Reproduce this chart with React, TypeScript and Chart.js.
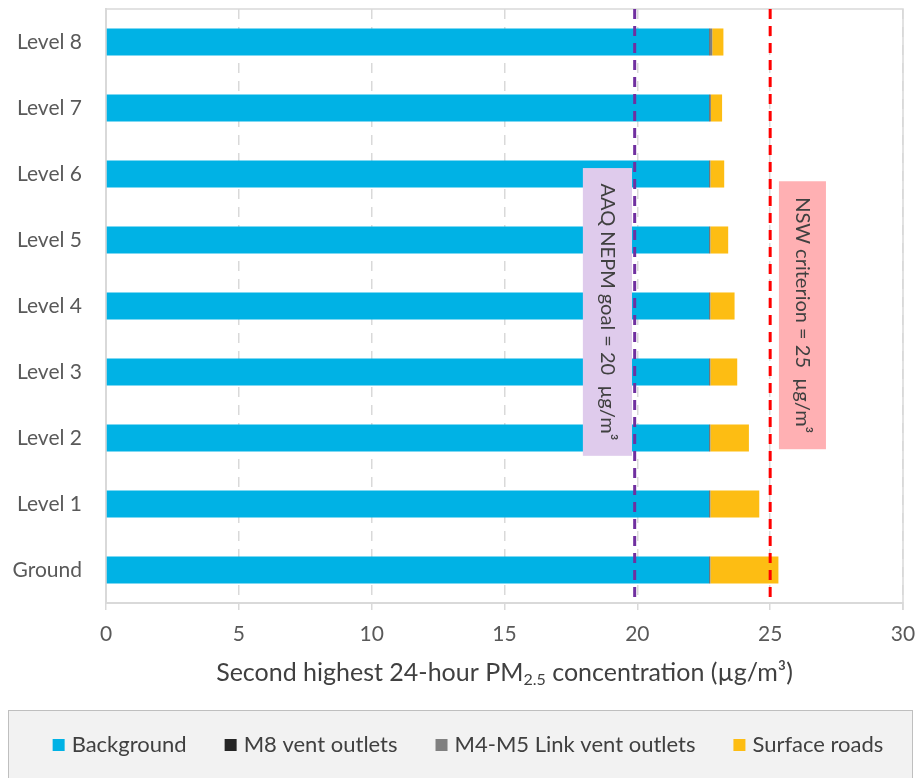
import { useEffect, useRef } from 'react';
import Chart from 'chart.js/auto';

const levels = ['Level 8', 'Level 7', 'Level 6', 'Level 5', 'Level 4', 'Level 3', 'Level 2', 'Level 1', 'Ground'];
const background = [22.7, 22.7, 22.7, 22.7, 22.7, 22.7, 22.7, 22.7, 22.7];
const m8Vents = [0.02, 0.02, 0.02, 0.02, 0.02, 0.02, 0.02, 0.02, 0.02];
const m4m5Vents = [0.1, 0.05, 0.03, 0.03, 0.03, 0.03, 0.03, 0.03, 0.03];
const surfaceRoads = [0.42, 0.42, 0.52, 0.67, 0.91, 1.01, 1.45, 1.84, 2.56];
const xTicks = [0, 5, 10, 15, 20, 25, 30];

const nepmGoal = 19.9;
const nswCriterion = 25;

const FONT = 'Lato, "Open Sans", sans-serif';

const refPlugin = {
  id: 'refLines',
  beforeDatasetsDraw(chart: any) {
    const { ctx, chartArea: a } = chart;
    ctx.save();
    ctx.strokeStyle = '#d9d9d9';
    ctx.lineWidth = 1.5;
    ctx.beginPath();
    ctx.moveTo(a.left, a.top);
    ctx.lineTo(a.right, a.top);
    ctx.lineTo(a.right, a.bottom + 7);
    ctx.stroke();
    ctx.restore();
  },
  afterDatasetsDraw(chart: any) {
    const { ctx, chartArea: a, scales } = chart;
    const x = scales.x;
    const y = scales.y;

    const box = (x0: number, x1: number, i0: number, i1: number, fill: string, text: string) => {
      const l = x.getPixelForValue(x0);
      const r = x.getPixelForValue(x1);
      const t = y.getPixelForValue(i0);
      const b = y.getPixelForValue(i1);
      ctx.save();
      ctx.fillStyle = fill;
      ctx.fillRect(l, t, r - l, b - t);
      ctx.translate((l + r) / 2, (t + b) / 2);
      ctx.rotate(Math.PI / 2);
      ctx.fillStyle = '#404040';
      ctx.font = `20px ${FONT}`;
      ctx.textAlign = 'center';
      ctx.textBaseline = 'middle';
      ctx.fillText(text, 0, 0);
      ctx.restore();
    };

    const vline = (v: number, color: string) => {
      const px = x.getPixelForValue(v);
      ctx.save();
      ctx.strokeStyle = color;
      ctx.lineWidth = 3;
      ctx.setLineDash([10, 7]);
      ctx.beginPath();
      ctx.moveTo(px, a.top);
      ctx.lineTo(px, a.bottom);
      ctx.stroke();
      ctx.restore();
    };

    box(17.95, 19.8, 1.91, 6.27, '#dfcbec', 'AAQ NEPM goal = 20  µg/m³');
    vline(nepmGoal, '#7030a0');
    box(25.33, 27.1, 2.11, 6.17, '#ffb0b3', 'NSW criterion = 25  µg/m³');
    vline(nswCriterion, '#ff0000');
  },
  afterDraw(chart: any) {
    const { ctx, chartArea: a } = chart;
    // x-axis title with subscript
    ctx.save();
    ctx.fillStyle = '#404040';
    ctx.textBaseline = 'alphabetic';
    const big = `25px ${FONT}`;
    const small = `16px ${FONT}`;
    const p1 = 'Second highest 24-hour PM';
    const p2 = '2.5';
    const p3 = ' concentration (µg/m³)';
    ctx.font = big;
    const w1 = ctx.measureText(p1).width;
    const w3 = ctx.measureText(p3).width;
    ctx.font = small;
    const w2 = ctx.measureText(p2).width;
    let cx = (a.left + a.right) / 2 - (w1 + w2 + w3) / 2;
    const base = 681;
    ctx.font = big;
    ctx.fillText(p1, cx, base);
    cx += w1;
    ctx.font = small;
    ctx.fillText(p2, cx, base + 4);
    cx += w2;
    ctx.font = big;
    ctx.fillText(p3, cx, base);

    // legend box
    ctx.fillStyle = '#f2f2f2';
    ctx.strokeStyle = '#bfbfbf';
    ctx.lineWidth = 1;
    ctx.fillRect(8.5, 710.5, 904, 80);
    ctx.strokeRect(8.5, 710.5, 904, 80);

    ctx.font = `22px ${FONT}`;
    ctx.textBaseline = 'middle';
    const items = chart.data.datasets.map((d: any) => ({
      label: d.label,
      color: d.backgroundColor,
      w: 12 + 7 + ctx.measureText(d.label).width,
    }));
    const gap = 38;
    const total = items.reduce((s: number, it: any) => s + it.w, 0) + gap * (items.length - 1);
    let lx = 468 - total / 2;
    items.forEach((it: any) => {
      ctx.fillStyle = it.color;
      ctx.fillRect(lx, 739, 12, 12);
      ctx.fillStyle = '#404040';
      ctx.fillText(it.label, lx + 19, 745);
      lx += it.w + gap;
    });
    ctx.restore();
  },
};

export default function App() {
  const chartRef = useRef<HTMLCanvasElement>(null);
  const chartInstance = useRef<Chart | null>(null);

  useEffect(() => {
    document.body.style.margin = '0';
    if (!chartRef.current) return;
    if (chartInstance.current) chartInstance.current.destroy();
    const ctx = chartRef.current.getContext('2d');
    if (!ctx) return;

    chartInstance.current = new Chart(ctx, {
      type: 'bar',
      data: {
        labels: levels,
        datasets: [
          { label: 'Background', data: background, backgroundColor: '#00b2e5' },
          { label: 'M8 vent outlets', data: m8Vents, backgroundColor: '#262626' },
          { label: 'M4-M5 Link vent outlets', data: m4m5Vents, backgroundColor: '#808080' },
          { label: 'Surface roads', data: surfaceRoads, backgroundColor: '#fdbd13' },
        ],
      },
      options: {
        indexAxis: 'y',
        animation: false,
        responsive: false,
        layout: { padding: { top: 9, right: 17, left: 0, bottom: 0 } },
        datasets: { bar: { categoryPercentage: 1, barPercentage: 0.41 } },
        plugins: { legend: { display: false }, tooltip: { enabled: false } },
        scales: {
          x: {
            stacked: true,
            min: 0,
            max: 30,
            afterBuildTicks: (s: any) => {
              s.ticks = xTicks.map((v) => ({ value: v }));
            },
            afterFit: (s: any) => {
              s.height = 175;
              s.paddingLeft = 0;
              s.paddingRight = 0;
            },
            grid: { color: '#d9d9d9', lineWidth: 1.5, tickLength: 7, tickBorderDash: [] },
            border: { display: true, color: '#d9d9d9', width: 2, dash: [10, 8] },
            ticks: { color: '#595959', font: { family: FONT, size: 21 }, padding: 12 },
          },
          y: {
            stacked: true,
            afterFit: (s: any) => {
              s.width = 106;
              s.paddingTop = 0;
              s.paddingBottom = 0;
            },
            grid: { display: false },
            border: { display: true, color: '#d9d9d9', width: 2 },
            ticks: { color: '#595959', font: { family: FONT, size: 21 }, padding: 16 },
          },
        },
      },
      plugins: [refPlugin],
    });

    return () => {
      if (chartInstance.current) {
        chartInstance.current.destroy();
        chartInstance.current = null;
      }
    };
  }, []);

  return (
    <div style={{ width: 920, height: 778, position: 'relative' }}>
      <canvas ref={chartRef} width={920} height={778} />
    </div>
  );
}
